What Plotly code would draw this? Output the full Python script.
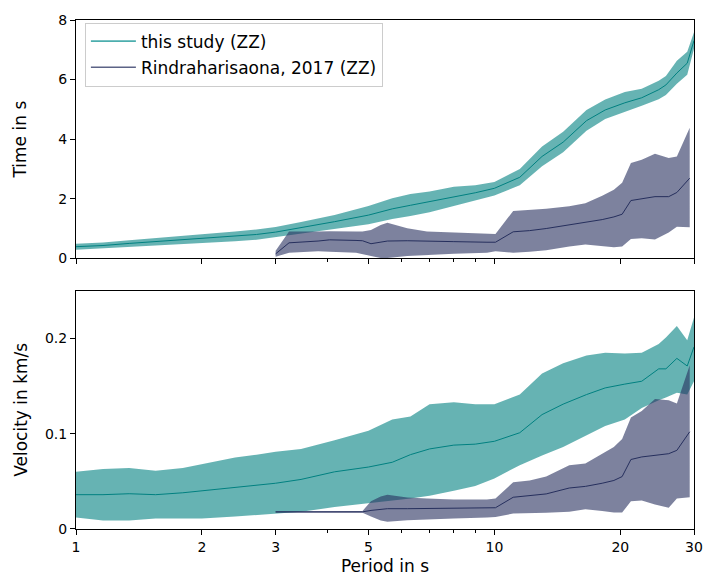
import plotly.graph_objects as go
from plotly.subplots import make_subplots

# ---- this study (ZZ): period, travel time and velocity with uncertainty bands ----
study_period = [1.0, 1.16, 1.34, 1.55, 1.8, 2.0, 2.4, 2.7, 3.0, 3.45, 4.15, 5.0, 5.7,
                6.3, 7.0, 8.0, 9.0, 10.0, 11.5, 13.0, 14.6, 16.6, 18.4, 20.5, 22.5,
                24.7, 25.7, 27.3, 28.9, 30.0]
study_time = [0.39, 0.43, 0.50, 0.56, 0.61, 0.66, 0.74, 0.80, 0.88, 1.02, 1.23, 1.45, 1.66,
              1.78, 1.90, 2.07, 2.20, 2.35, 2.72, 3.42, 3.90, 4.62, 4.98, 5.22, 5.39,
              5.66, 5.82, 6.22, 6.55, 7.31]
study_time_lo = [0.29, 0.33, 0.39, 0.44, 0.47, 0.51, 0.57, 0.62, 0.69, 0.82, 0.98, 1.14, 1.32,
                 1.42, 1.55, 1.76, 1.94, 2.11, 2.45, 3.09, 3.56, 4.28, 4.68, 4.92, 5.12,
                 5.34, 5.48, 5.86, 6.16, 7.04]
study_time_hi = [0.49, 0.53, 0.61, 0.68, 0.74, 0.80, 0.90, 0.97, 1.05, 1.22, 1.45, 1.76, 2.02,
                 2.16, 2.24, 2.40, 2.45, 2.56, 3.00, 3.75, 4.25, 4.98, 5.33, 5.58, 5.69,
                 5.96, 6.12, 6.63, 6.93, 7.59]
study_vel = [0.036, 0.036, 0.037, 0.036, 0.038, 0.040, 0.044, 0.046, 0.048, 0.052, 0.060,
             0.065, 0.070, 0.078, 0.084, 0.088, 0.089, 0.092, 0.101, 0.120, 0.131, 0.141,
             0.148, 0.152, 0.155, 0.168, 0.168, 0.179, 0.171, 0.191]
study_vel_lo = [0.012, 0.009, 0.009, 0.011, 0.011, 0.011, 0.013, 0.014, 0.016, 0.018, 0.023,
                0.027, 0.030, 0.032, 0.035, 0.040, 0.045, 0.053, 0.067, 0.077, 0.086, 0.098,
                0.108, 0.115, 0.127, 0.135, 0.138, 0.143, 0.141, 0.155]
study_vel_hi = [0.060, 0.063, 0.064, 0.061, 0.064, 0.068, 0.075, 0.078, 0.081, 0.084, 0.093,
                0.103, 0.115, 0.118, 0.131, 0.133, 0.131, 0.131, 0.141, 0.163, 0.174, 0.182,
                0.185, 0.184, 0.185, 0.194, 0.201, 0.213, 0.198, 0.222]

# ---- Rindraharisaona, 2017 (ZZ) ----
ref_period = [3.0, 3.23, 3.79, 4.04, 4.67, 4.84, 5.07, 5.35, 5.55, 6.19, 6.9, 8.0, 9.6,
              10.06, 11.09, 12.14, 13.3, 15.1, 16.5, 18.1, 19.3, 20.2, 21.2, 22.5, 24.2,
              26.1, 27.3, 29.3]
ref_time = [0.15, 0.52, 0.58, 0.62, 0.60, 0.59, 0.49, 0.55, 0.58, 0.59, 0.57, 0.56, 0.54,
            0.54, 0.89, 0.93, 1.00, 1.12, 1.19, 1.30, 1.39, 1.48, 1.94, 2.00, 2.07,
            2.07, 2.21, 2.69]
ref_time_lo = [0.05, 0.19, 0.24, 0.22, 0.19, 0.15, 0.08, 0.01, 0.01, 0.08, 0.12, 0.15, 0.19,
               0.24, 0.19, 0.22, 0.27, 0.40, 0.46, 0.40, 0.37, 0.40, 0.65, 0.67, 0.63,
               0.87, 1.06, 1.04]
ref_time_hi = [0.25, 0.90, 0.90, 0.91, 0.90, 0.90, 0.95, 1.12, 1.19, 1.01, 0.90, 0.86, 0.82,
               0.82, 1.59, 1.62, 1.66, 1.75, 1.85, 2.10, 2.30, 2.54, 3.20, 3.31, 3.51,
               3.37, 3.42, 4.38]
ref_vel = [0.018, 0.018, 0.018, 0.018, 0.018, 0.018, 0.0195, 0.0205, 0.0213, 0.0213, 0.0215,
           0.0216, 0.0222, 0.0223, 0.0333, 0.0347, 0.0368, 0.043, 0.0447, 0.048, 0.0509,
           0.055, 0.0729, 0.0756, 0.0773, 0.079, 0.0825, 0.102]
ref_vel_lo = [0.017, 0.0175, 0.0175, 0.017, 0.017, 0.017, 0.013, 0.009, 0.0075, 0.0093, 0.010,
              0.011, 0.012, 0.0127, 0.0162, 0.0165, 0.017, 0.018, 0.0206, 0.019, 0.0172,
              0.0172, 0.0292, 0.030, 0.0258, 0.0223, 0.032, 0.0333]
ref_vel_hi = [0.0185, 0.0185, 0.0185, 0.019, 0.019, 0.019, 0.029, 0.034, 0.036, 0.033, 0.032,
              0.031, 0.031, 0.032, 0.049, 0.051, 0.055, 0.067, 0.0687, 0.079, 0.0859,
              0.0945, 0.117, 0.1237, 0.1364, 0.135, 0.1316, 0.1718]

STUDY_LABEL = "this study (ZZ)"
REF_LABEL = "Rindraharisaona, 2017 (ZZ)"

TEAL = "rgb(0,128,128)"
TEAL_FILL = "rgba(0,128,128,0.6)"
NAVY = "rgb(38,47,93)"
NAVY_FILL = "rgba(38,47,93,0.6)"

fig = make_subplots(rows=2, cols=1, shared_xaxes=True, vertical_spacing=0.0636)


def add_band(x, lo, hi, fill, row):
    fig.add_trace(go.Scatter(x=list(x) + list(x)[::-1], y=list(hi) + list(lo)[::-1],
                             fill="toself", fillcolor=fill, mode="lines",
                             line=dict(width=0, color=fill), hoverinfo="skip",
                             showlegend=False), row=row, col=1)


def add_line(x, y, color, row):
    fig.add_trace(go.Scatter(x=x, y=y, mode="lines", line=dict(color=color, width=1),
                             showlegend=False), row=row, col=1)


# top panel: travel time
add_band(study_period, study_time_lo, study_time_hi, TEAL_FILL, 1)
add_line(study_period, study_time, TEAL, 1)
add_band(ref_period, ref_time_lo, ref_time_hi, NAVY_FILL, 1)
add_line(ref_period, ref_time, NAVY, 1)

# bottom panel: velocity
add_band(study_period, study_vel_lo, study_vel_hi, TEAL_FILL, 2)
add_line(study_period, study_vel, TEAL, 2)
add_band(ref_period, ref_vel_lo, ref_vel_hi, NAVY_FILL, 2)
add_line(ref_period, ref_vel, NAVY, 2)

# legend entries
fig.add_trace(go.Scatter(x=[None], y=[None], mode="lines", name=STUDY_LABEL,
                         legendgroup="a", line=dict(color="rgba(0,140,140,0.7)", width=1.6)),
              row=1, col=1)
fig.add_trace(go.Scatter(x=[None], y=[None], mode="lines", name=REF_LABEL,
                         legendgroup="b", line=dict(color="rgba(38,47,93,0.75)", width=1.6)),
              row=1, col=1)

axis_common = dict(showline=True, mirror=True, linecolor="black", linewidth=1,
                   ticks="outside", ticklen=5, tickwidth=1, tickcolor="black",
                   showgrid=False, zeroline=False)

x_major = [1, 2, 3, 5, 10, 20, 30]
x_minor = [4, 6, 7, 8, 9]
for r in (1, 2):
    fig.update_xaxes(type="log", range=[0, 1.4771], tickvals=x_major,
                     ticktext=[str(v) for v in x_major],
                     minor=dict(tickvals=x_minor, ticks="outside", ticklen=3,
                                tickcolor="black", tickwidth=1),
                     row=r, col=1, **axis_common)
fig.update_xaxes(showticklabels=False, row=1, col=1)
fig.update_xaxes(title=dict(text="Period in s", standoff=6), row=2, col=1)

fig.update_yaxes(range=[0, 8], tickvals=[0, 2, 4, 6, 8],
                 title=dict(text="Time in s", standoff=27), row=1, col=1, **axis_common)
fig.update_yaxes(range=[0, 0.25], tickvals=[0, 0.1, 0.2], ticktext=["0", "0.1", "0.2"],
                 title=dict(text="Velocity in km/s", standoff=12), row=2, col=1, **axis_common)

fig.update_layout(
    width=715, height=585,
    margin=dict(l=76, r=16, t=16, b=50),
    plot_bgcolor="white", paper_bgcolor="white",
    font=dict(family="DejaVu Sans", size=14, color="black"),
    legend=dict(x=0.0144, y=0.995, xanchor="left", yanchor="top",
                bgcolor="rgba(255,255,255,0.8)", bordercolor="#cccccc", borderwidth=1,
                tracegroupgap=1, itemwidth=45, font=dict(size=17)),
)

fig.write_html("out.html")
